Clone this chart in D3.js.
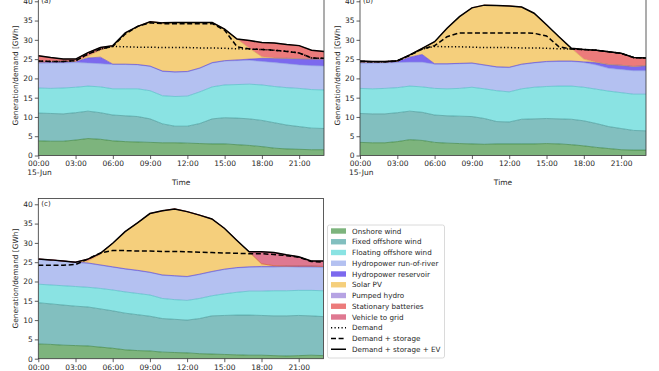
<!DOCTYPE html>
<html>
<head>
<meta charset="utf-8">
<title>Generation and demand, 15 June</title>
<script src="https://cdn.jsdelivr.net/npm/d3@7"></script>
<style>
  body { margin: 0; background: #fff; }
  svg { display: block; font-family: "DejaVu Sans", sans-serif; }
</style>
</head>
<body>
<svg id="chart" width="659" height="371"></svg>
<script>
// hours of the day (00:00 ... 23:00)
hours = [0,1,2,3,4,5,6,7,8,9,10,11,12,13,14,15,16,17,18,19,20,21,22,23];
tickHours = [0,3,6,9,12,15,18,21];
yTicks = [0,5,10,15,20,25,30,35,40];

// stack order, bottom to top
seriesKeys = ["onshore","fixed","floating","ror","reservoir","solar","pumped","batteries","v2g"];
seriesNames = ["Onshore wind","Fixed offshore wind","Floating offshore wind","Hydropower run-of-river",
  "Hydropower reservoir","Solar PV","Pumped hydro","Stationary batteries","Vehicle to grid"];
seriesFill = ["#7db47d","#82bfbf","#8ae3e3","#b4c1f1","#7c69ee","#f5cf7c","#b6a3e3","#ec7b7b","#df7891"];
seriesEdge = ["#2f7a2f","#3c8f8f","#3fb8bd","#8a9de0","#5a3fd6","#d9a84a","#8a6fcf","#d94a4a","#c84a6a"];
lineNames = ["Demand","Demand + storage","Demand + storage + EV"];

// panel (a)
aOnshore   = [3.8,3.7,3.7,4.0,4.4,4.2,3.8,3.6,3.5,3.4,3.3,3.3,3.2,3.1,3.0,3.0,2.8,2.6,2.3,1.9,1.7,1.6,1.5,1.5];
aFixed     = [7.2,7.2,7.1,7.1,7.1,6.9,6.7,6.7,6.6,6.1,4.9,4.3,4.4,5.2,6.5,6.8,6.9,6.9,6.8,6.6,6.2,5.9,5.6,5.5];
aFloating  = [6.5,6.5,6.7,6.6,6.5,6.7,6.8,7.0,7.2,7.3,7.3,7.7,7.8,8.2,8.3,8.5,8.7,9.0,9.2,9.4,9.7,9.9,10.0,10.0];
aRor       = [6.4,6.6,6.5,6.4,6.0,6.0,6.3,6.3,6.2,6.3,6.3,6.3,6.3,6.1,6.2,6.2,6.2,6.2,6.1,6.2,6.2,6.1,6.2,6.2];
aReservoir = [0.3,0.3,0.3,0.3,1.3,1.7,0.1,0.1,0.1,0.1,0.1,0.1,0.1,0.1,0.1,0.1,0.2,0.3,0.8,1.1,1.4,1.6,1.7,1.8];
aSolar     = [0,0,0,0,0.5,1.8,4.8,8.1,9.9,11.5,12.5,12.8,12.7,11.8,10.4,8.2,5.4,2.8,0.4,0.1,0,0,0,0];
aPumped    = [0,0,0,0,0,0,0,0,0,0,0,0,0,0,0,0,0,0,0,0,0,0,0,0];
aBatteries = [1.7,1.1,0.7,0.6,0.9,0.7,0,0,0,0,0,0,0,0,0,0,0,2.0,3.7,3.9,3.6,3.4,2.3,2.0];
aV2g       = [0,0,0,0,0,0,0,0,0,0,0,0,0,0,0,0,0,0,0,0,0,0,0,0];
aDemand    = [24.5,24.4,24.4,24.6,26.3,27.6,28.3,28.2,28.1,28.1,28.0,28.0,28.0,27.9,27.9,27.8,27.7,27.6,27.5,27.3,27.0,26.6,25.3,25.2];
aStorage   = [24.5,24.4,24.4,24.6,26.3,27.6,28.3,31.5,33.5,34.4,34.2,34.2,34.2,34.2,34.2,32.5,28.2,27.6,27.5,27.3,27.0,26.6,25.3,25.2];
aTotal     = [25.9,25.4,25.0,25.0,26.7,28.0,28.5,31.8,33.5,34.7,34.4,34.5,34.5,34.5,34.5,32.8,30.2,29.8,29.3,29.2,28.8,28.5,27.3,27.0];

// panel (b)
bOnshore   = [3.4,3.3,3.3,3.6,4.1,3.9,3.4,3.2,3.1,3.0,2.9,3.0,3.0,3.0,3.0,3.1,3.0,2.8,2.5,2.1,1.8,1.5,1.4,1.4];
bFixed     = [7.5,7.5,7.5,7.5,7.4,7.3,7.1,7.1,7.1,7.1,6.7,5.8,5.7,6.4,6.5,6.5,6.5,6.6,6.5,6.2,5.7,5.5,5.1,5.0];
bFloating  = [6.5,6.5,6.6,6.5,6.5,6.6,6.9,7.0,7.2,7.6,7.7,8.0,7.8,7.9,8.2,8.3,8.5,8.6,8.7,8.9,9.2,9.3,9.4,9.5];
bRor       = [6.5,6.6,6.6,6.5,6.2,6.4,6.3,6.4,6.4,6.2,6.1,6.1,6.3,6.3,6.3,6.4,6.4,6.4,6.4,6.3,5.9,6.0,6.1,6.1];
bReservoir = [0.3,0.3,0.2,0.3,1.3,2.0,0.1,0.1,0.1,0.1,0.1,0.1,0.1,0.1,0.1,0.1,0.1,0.1,0.2,0.6,1.0,1.1,1.1,1.3];
bSolar     = [0,0,0,0,0.6,1.6,5.7,9.2,12.1,14.3,15.5,15.9,15.9,14.8,12.8,9.5,6.3,3.3,0.7,0.1,0,0,0,0];
bPumped    = [0,0,0,0,0,0,0,0,0,0,0,0,0,0,0,0,0,0,0,0,0,0,0,0];
bBatteries = [0.3,0.2,0.2,0.2,0,0,0,0,0,0,0,0,0,0,0,0,0,0,2.5,3.1,3.3,3.1,2.3,2.0];
bV2g       = [0,0,0,0,0,0,0,0,0,0,0,0,0,0,0,0,0,0,0,0,0,0,0,0];
bDemand    = [24.4,24.3,24.3,24.5,26.0,27.6,28.3,28.2,28.2,28.1,28.0,28.0,28.0,27.9,27.9,27.8,27.7,27.6,27.5,27.3,26.9,26.5,25.4,25.3];
bStorage   = [24.4,24.3,24.3,24.5,26.0,27.6,28.5,30.8,31.8,31.8,31.8,31.8,31.8,31.8,31.7,31.0,28.2,27.6,27.5,27.3,26.9,26.5,25.4,25.3];
bTotal     = [24.5,24.4,24.4,24.6,26.1,27.8,29.5,33.0,36.0,38.3,39.0,38.9,38.8,38.5,36.9,33.9,30.8,27.8,27.5,27.3,26.9,26.5,25.4,25.3];

// panel (c)
cOnshore   = [3.8,3.7,3.5,3.4,3.3,3.0,2.7,2.3,2.1,2.0,1.7,1.6,1.5,1.3,1.2,1.1,1.0,0.9,0.9,0.8,0.7,0.8,0.9,0.8];
cFixed     = [10.7,10.5,10.4,10.2,10.1,9.9,9.7,9.5,9.3,9.0,8.7,8.6,8.5,9.1,9.9,10.1,10.3,10.4,10.3,10.3,10.4,10.4,10.2,10.1];
cFloating  = [4.8,4.9,5.0,5.1,5.1,5.3,5.4,5.5,5.5,5.5,5.2,5.1,5.1,5.2,5.2,5.6,5.9,6.2,6.3,6.5,6.5,6.5,6.6,6.7];
cRor       = [6.4,6.4,6.4,6.3,6.2,6.0,5.9,5.9,5.9,5.8,6.0,6.1,6.1,6.2,6.2,6.3,6.3,6.2,6.2,6.1,6.2,6.0,6.0,6.0];
cReservoir = [0.1,0.1,0,0,0.1,0.1,0.1,0.1,0.1,0.1,0.1,0.1,0.1,0.1,0.1,0.1,0.1,0.1,0.2,0.2,0.2,0.3,0.3,0.3];
cSolar     = [0,0,0,0,0.5,2.7,6.1,9.6,12.3,15.2,16.6,17.3,16.8,15.3,13.6,10.6,7.1,3.9,0.7,0.2,0,0,0,0];
cPumped    = [0,0,0,0,0,0,0,0,0,0,0,0,0,0,0,0,0,0,0,0,0,0,0,0];
cBatteries = [0,0,0,0,0.5,0.3,0,0,0,0,0,0,0,0,0,0,0,0,0,0,0,0,0,0];
cV2g       = [0,0,0,0,0,0,0,0,0,0,0,0,0,0,0,0,0,0,3.1,3.4,2.9,2.4,1.3,1.4];
cStorage   = [24.2,24.2,24.2,24.4,25.8,27.4,28.0,28.0,27.9,27.9,27.8,27.8,27.7,27.6,27.5,27.4,27.3,27.2,27.2,27.0,26.7,26.3,25.2,25.0];
cTotal     = [25.8,25.6,25.3,25.0,25.8,27.3,29.9,32.9,35.2,37.6,38.3,38.8,38.1,37.2,36.2,33.8,30.7,27.7,27.7,27.5,26.9,26.4,25.3,25.3];

panels = [
  { label: "(a)", left: 38.3, right: 324, top: -4.5, bottom: 155.5,
    series: [aOnshore,aFixed,aFloating,aRor,aReservoir,aSolar,aPumped,aBatteries,aV2g],
    lines: [aDemand,aStorage,aTotal] },
  { label: "(b)", left: 360, right: 646, top: -4.5, bottom: 155.5,
    series: [bOnshore,bFixed,bFloating,bRor,bReservoir,bSolar,bPumped,bBatteries,bV2g],
    lines: [bDemand,bStorage,bTotal] },
  { label: "(c)", left: 38.3, right: 323.5, top: 198.5, bottom: 358.7,
    series: [cOnshore,cFixed,cFloating,cRor,cReservoir,cSolar,cPumped,cBatteries,cV2g],
    lines: [null,cStorage,cTotal] }
];
lineDash = ["1.2,2.3","5,2.6",null];

svg = d3.select("#chart");
textColour = "#262626";
hourFormat = function(h) { return d3.format("02")(h) + ":00"; };

panels.forEach(function(p, i) {
  x = d3.scaleLinear().domain([0, 23]).range([p.left, p.right]);
  y = d3.scaleLinear().domain([0, 41.5]).range([p.bottom, p.top]);
  g = svg.append("g");

  clipId = "clip" + i;
  g.append("clipPath").attr("id", clipId)
    .append("rect")
      .attr("x", p.left).attr("y", p.top)
      .attr("width", p.right - p.left).attr("height", p.bottom - p.top);
  plot = g.append("g").attr("clip-path", "url(#" + clipId + ")");

  // build rows and stack them
  rows = hours.map(function(h) {
    row = { h: h };
    seriesKeys.forEach(function(k, j) { row[k] = p.series[j][h]; });
    return row;
  });
  stacked = d3.stack().keys(seriesKeys)(rows);

  area = d3.area()
    .x(function(d) { return x(d.data.h); })
    .y0(function(d) { return y(d[0]); })
    .y1(function(d) { return y(d[1]); });
  topLine = d3.line()
    .x(function(d) { return x(d.data.h); })
    .y(function(d) { return y(d[1]); });

  plot.selectAll(".layer")
      .data(stacked)
    .enter().append("path")
      .attr("class", "layer")
      .attr("d", area)
      .attr("fill", function(d, j) { return seriesFill[j]; });
  plot.selectAll(".edge")
      .data(stacked.filter(function(d, j) { return d3.max(p.series[j]) > 0; }))
    .enter().append("path")
      .attr("class", "edge")
      .attr("d", topLine)
      .attr("fill", "none")
      .attr("stroke", function(d) { return seriesEdge[d.index]; })
      .attr("stroke-opacity", 0.75)
      .attr("stroke-width", 0.8);

  // demand lines
  demandLine = d3.line()
    .x(function(d, j) { return x(hours[j]); })
    .y(function(d) { return y(d); });
  p.lines.forEach(function(vals, j) {
    if (!vals) return;
    plot.append("path")
      .attr("d", demandLine(vals))
      .attr("fill", "none")
      .attr("stroke", "#000")
      .attr("stroke-width", 1.5)
      .attr("stroke-dasharray", lineDash[j]);
  });

  // frame
  g.append("rect")
    .attr("x", p.left).attr("y", p.top)
    .attr("width", p.right - p.left).attr("height", p.bottom - p.top)
    .attr("fill", "none").attr("stroke", "#333").attr("stroke-width", 0.8);

  // axes
  xAxis = d3.axisBottom(x).tickValues(tickHours).tickFormat(hourFormat).tickSize(3.5).tickPadding(2);
  yAxis = d3.axisLeft(y).tickValues(yTicks).tickSize(3.5).tickPadding(2);
  gx = g.append("g").attr("transform", "translate(0," + p.bottom + ")").call(xAxis);
  gy = g.append("g").attr("transform", "translate(" + p.left + ",0)").call(yAxis);
  [gx, gy].forEach(function(ax) {
    ax.select(".domain").remove();
    ax.selectAll("line").attr("stroke", "#333").attr("stroke-width", 0.8);
    ax.selectAll("text").attr("fill", textColour).style("font-size", "7.5px")
      .style("font-family", "'DejaVu Sans', sans-serif");
  });

  // date under first tick
  g.append("text")
    .attr("x", x(0) - 11).attr("y", p.bottom + 19.5)
    .attr("fill", textColour).style("font-size", "7.5px")
    .text("15-Jun");
  g.append("text")
    .attr("x", (p.left + p.right) / 2).attr("y", p.bottom + 29.5)
    .attr("text-anchor", "middle")
    .attr("fill", textColour).style("font-size", "7.5px")
    .text("Time");
  g.append("text")
    .attr("transform", "translate(" + (p.left - 20.5) + "," + ((p.top + p.bottom) / 2) + ") rotate(-90)")
    .attr("text-anchor", "middle")
    .attr("fill", textColour).style("font-size", "7.4px")
    .text("Generation/demand [GWh]");
  g.append("text")
    .attr("x", p.left + 3).attr("y", p.top + 7.5)
    .attr("fill", textColour).style("font-size", "7px")
    .text(p.label);
});

// legend
legend = svg.append("g").attr("transform", "translate(327.5,225)");
legend.append("rect")
  .attr("width", 117).attr("height", 133).attr("rx", 2)
  .attr("fill", "#fff").attr("stroke", "#d0d0d0").attr("stroke-width", 0.8);
rowY = function(j) { return 6 + j * 10.75; };
seriesNames.forEach(function(name, j) {
  legend.append("rect")
    .attr("x", 3.5).attr("y", rowY(j) - 2.7)
    .attr("width", 15).attr("height", 5.4)
    .attr("fill", seriesFill[j]);
  legend.append("text")
    .attr("x", 24.5).attr("y", rowY(j) + 2.6)
    .attr("fill", textColour).style("font-size", "7.2px")
    .text(name);
});
lineNames.forEach(function(name, j) {
  k = seriesNames.length + j;
  legend.append("line")
    .attr("x1", 3.5).attr("x2", 18.5)
    .attr("y1", rowY(k)).attr("y2", rowY(k))
    .attr("stroke", "#000").attr("stroke-width", 1.5)
    .attr("stroke-dasharray", lineDash[j]);
  legend.append("text")
    .attr("x", 24.5).attr("y", rowY(k) + 2.6)
    .attr("fill", textColour).style("font-size", "7.2px")
    .text(name);
});
</script>
</body>
</html>
